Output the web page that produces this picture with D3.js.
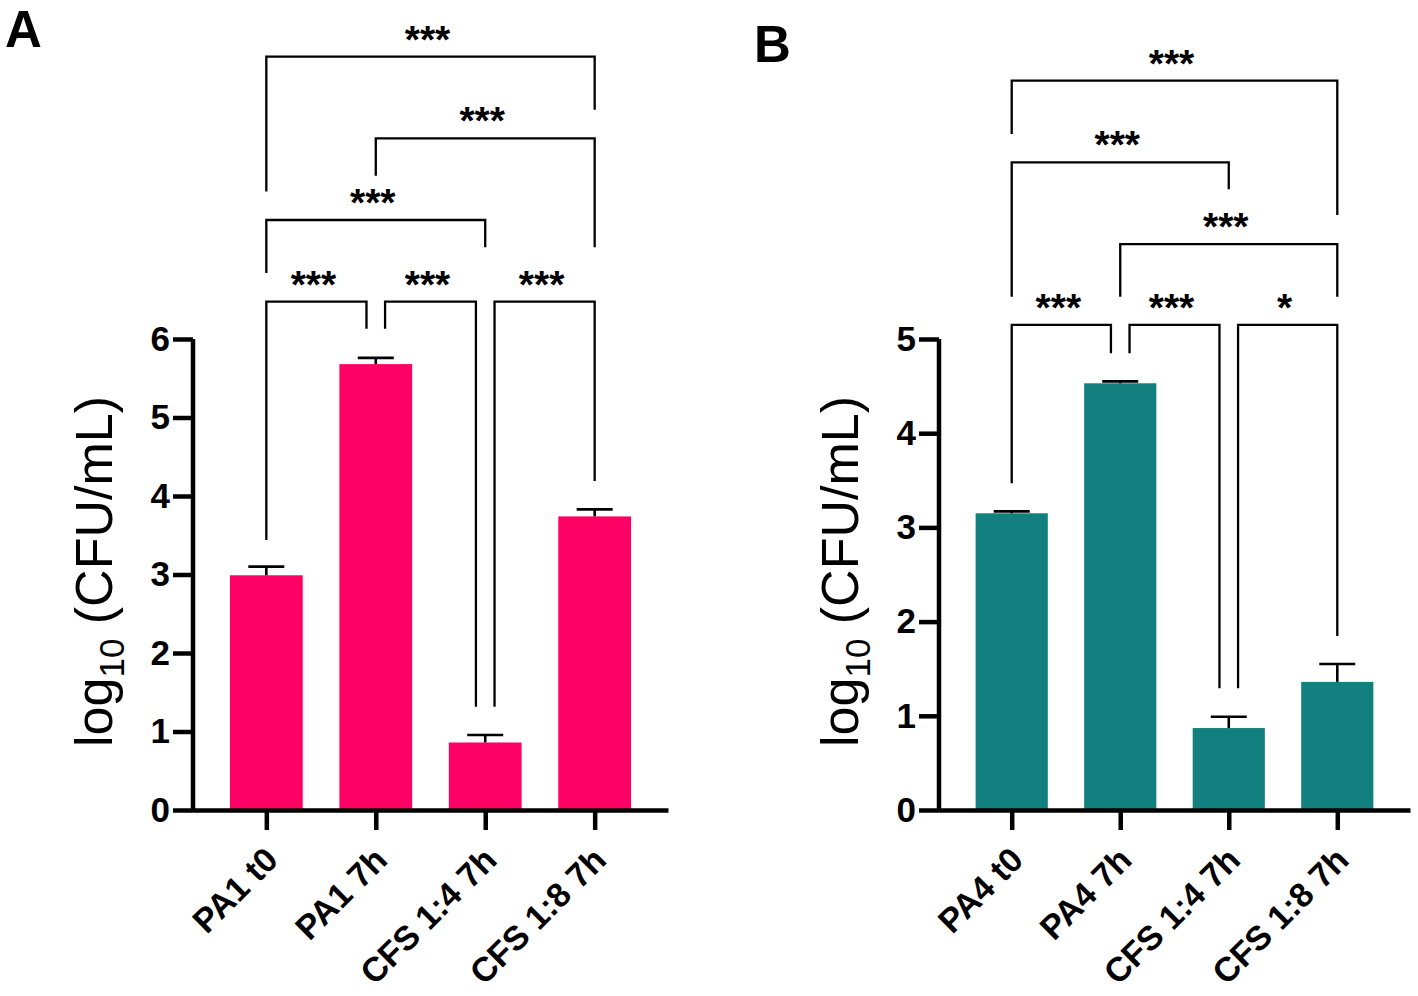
<!DOCTYPE html>
<html>
<head>
<meta charset="utf-8">
<script src="https://cdn.jsdelivr.net/npm/d3@7/dist/d3.min.js"></script>
<style>
  html, body { margin: 0; padding: 0; background: #fff; }
  svg { display: block; }
  text { font-family: "Liberation Sans", Arial, Helvetica, sans-serif; }
</style>
</head>
<body>
<svg id="chart" width="1418" height="996"></svg>
<script>
// ---------------- DATA ----------------
const categoriesA = ["PA1 t0", "PA1 7h", "CFS 1:4 7h", "CFS 1:8 7h"];
const meansA      = [2.99, 5.68, 0.86, 3.74];
const errorsA     = [0.11, 0.08, 0.095, 0.09];
const ticksA      = [0, 1, 2, 3, 4, 5, 6];
// comparisons: from, to, bracket level (data units), label, leg ends (data units)
const comparisonsA = [
  { from: 0, to: 1, level: 6.475, label: "***", ends: [3.44, 6.13] },
  { from: 1, to: 2, level: 6.475, label: "***", ends: [6.13, 1.316] },
  { from: 2, to: 3, level: 6.475, label: "***", ends: [1.316, 4.19] },
  { from: 0, to: 2, level: 7.516, label: "***", ends: [6.84, 7.17] },
  { from: 1, to: 3, level: 8.557, label: "***", ends: [8.08, 7.17] },
  { from: 0, to: 3, level: 9.597, label: "***", ends: [7.88, 8.92] }
];

const categoriesB = ["PA4 t0", "PA4 7h", "CFS 1:4 7h", "CFS 1:8 7h"];
const meansB      = [3.15, 4.53, 0.87, 1.36];
const errorsB     = [0.02, 0.02, 0.12, 0.19];
const ticksB      = [0, 1, 2, 3, 4, 5];
const comparisonsB = [
  { from: 0, to: 1, level: 5.149, label: "***", ends: [3.468, 4.848] },
  { from: 1, to: 2, level: 5.149, label: "***", ends: [4.848, 1.292] },
  { from: 2, to: 3, level: 5.149, label: "*",   ends: [1.292, 1.847] },
  { from: 1, to: 3, level: 6.008, label: "***", ends: [5.449, 5.449] },
  { from: 0, to: 2, level: 6.876, label: "***", ends: [5.449, 6.589] },
  { from: 0, to: 3, level: 7.742, label: "***", ends: [7.176, 6.316] }
];

// ---------------- DRAWING ----------------
const svg = d3.select("#chart");
const FONT = "'Liberation Sans', Arial, Helvetica, sans-serif";

function panel(cfg) {
  const g = svg.append("g");
  const x = d3.scalePoint().domain(cfg.categories).range([cfg.x0, cfg.x1]).padding(0.67);
  const y = d3.scaleLinear().domain([0, cfg.ymax]).range([cfg.yBase, cfg.yTop]);
  const step = x.step();
  const barW = step * 0.665;

  const rows = cfg.categories.map((c, i) => ({ c, m: cfg.means[i], e: cfg.errors[i] }));

  // bars
  g.selectAll("rect.bar").data(rows).enter().append("rect")
    .attr("class", "bar")
    .attr("x", d => x(d.c) - barW / 2)
    .attr("width", barW)
    .attr("y", d => y(d.m))
    .attr("height", d => y(0) - y(d.m))
    .attr("fill", cfg.color);

  // error bars (upper only)
  const capW = 36;
  g.selectAll("line.err").data(rows).enter().append("line")
    .attr("x1", d => x(d.c)).attr("x2", d => x(d.c))
    .attr("y1", d => y(d.m)).attr("y2", d => y(d.m + d.e))
    .attr("stroke", "#000").attr("stroke-width", 2.6);
  g.selectAll("line.cap").data(rows).enter().append("line")
    .attr("x1", d => x(d.c) - capW / 2).attr("x2", d => x(d.c) + capW / 2)
    .attr("y1", d => y(d.m + d.e)).attr("y2", d => y(d.m + d.e))
    .attr("stroke", "#000").attr("stroke-width", 2.6);

  // y axis
  const yAxis = g.append("g")
    .attr("transform", `translate(${cfg.x0},0)`)
    .call(d3.axisLeft(y).tickValues(cfg.ticks).tickFormat(d3.format("d"))
      .tickSize(20).tickSizeOuter(0).tickPadding(3));
  yAxis.select(".domain").attr("stroke-width", 4.5).attr("d", `M0,${cfg.yBase + 2.25}V${cfg.yTop}`);
  yAxis.selectAll(".tick line").attr("stroke-width", 4.5);
  yAxis.selectAll(".tick text")
    .attr("font-family", FONT)
    .attr("font-size", 35).attr("font-weight", "bold").attr("fill", "#000");

  // x axis
  const xAxis = g.append("g")
    .attr("transform", `translate(0,${cfg.yBase})`)
    .call(d3.axisBottom(x).tickSize(20).tickSizeOuter(0).tickPadding(0));
  xAxis.select(".domain").attr("stroke-width", 4.5);
  xAxis.selectAll(".tick line").attr("stroke-width", 4.5);
  xAxis.selectAll(".tick text")
    .attr("font-family", FONT)
    .attr("font-size", 34).attr("font-weight", "bold").attr("fill", "#000")
    .attr("text-anchor", "end")
    .attr("y", 0).attr("dy", 0)
    .attr("transform", "translate(13,52) rotate(-45)");

  // y axis title
  const t = g.append("text")
    .attr("transform", `translate(${cfg.titleX},${(cfg.yBase + cfg.yTop) / 2 - 3}) rotate(-90)`)
    .attr("text-anchor", "middle")
    .attr("font-family", FONT)
    .attr("font-size", 52)
    .attr("fill", "#000");
  t.append("tspan").text("log");
  t.append("tspan").attr("font-size", 35).attr("dy", 12).text("10");
  t.append("tspan").attr("dy", -12).text(" (CFU/mL)");

  // significance brackets
  const off = 9.3;
  cfg.comparisons.forEach(cmp => {
    const shared = idx => cfg.comparisons.some(o => o !== cmp && o.level === cmp.level &&
      (o.from === idx || o.to === idx));
    const xl = x(cfg.categories[cmp.from]) + (shared(cmp.from) ? off : 0);
    const xr = x(cfg.categories[cmp.to]) - (shared(cmp.to) ? off : 0);
    const yl = y(cmp.level);
    g.append("path")
      .attr("d", `M${xl},${y(cmp.ends[0])}V${yl}H${xr}V${y(cmp.ends[1])}`)
      .attr("fill", "none").attr("stroke", "#000").attr("stroke-width", 2.3);
    g.append("text")
      .attr("x", (xl + xr) / 2 - 3)
      .attr("y", yl - 4)
      .attr("text-anchor", "middle")
      .attr("font-family", FONT)
      .attr("font-size", 39).attr("font-weight", "bold")
      .attr("fill", "#000")
      .text(cmp.label);
  });

  // panel letter
  g.append("text")
    .attr("x", cfg.letterX).attr("y", cfg.letterY)
    .attr("font-family", FONT)
    .attr("font-size", 51).attr("font-weight", "bold").attr("fill", "#000")
    .text(cfg.letter);
}

panel({
  categories: categoriesA, means: meansA, errors: errorsA, ticks: ticksA,
  comparisons: comparisonsA, ymax: 6, color: "#FF0064",
  x0: 193, x1: 668, yBase: 810, yTop: 339, titleX: 112,
  letter: "A", letterX: 5, letterY: 46.5
});

panel({
  categories: categoriesB, means: meansB, errors: errorsB, ticks: ticksB,
  comparisons: comparisonsB, ymax: 5, color: "#12807E",
  x0: 939, x1: 1410, yBase: 810, yTop: 339, titleX: 858,
  letter: "B", letterX: 754, letterY: 62
});
</script>
</body>
</html>
